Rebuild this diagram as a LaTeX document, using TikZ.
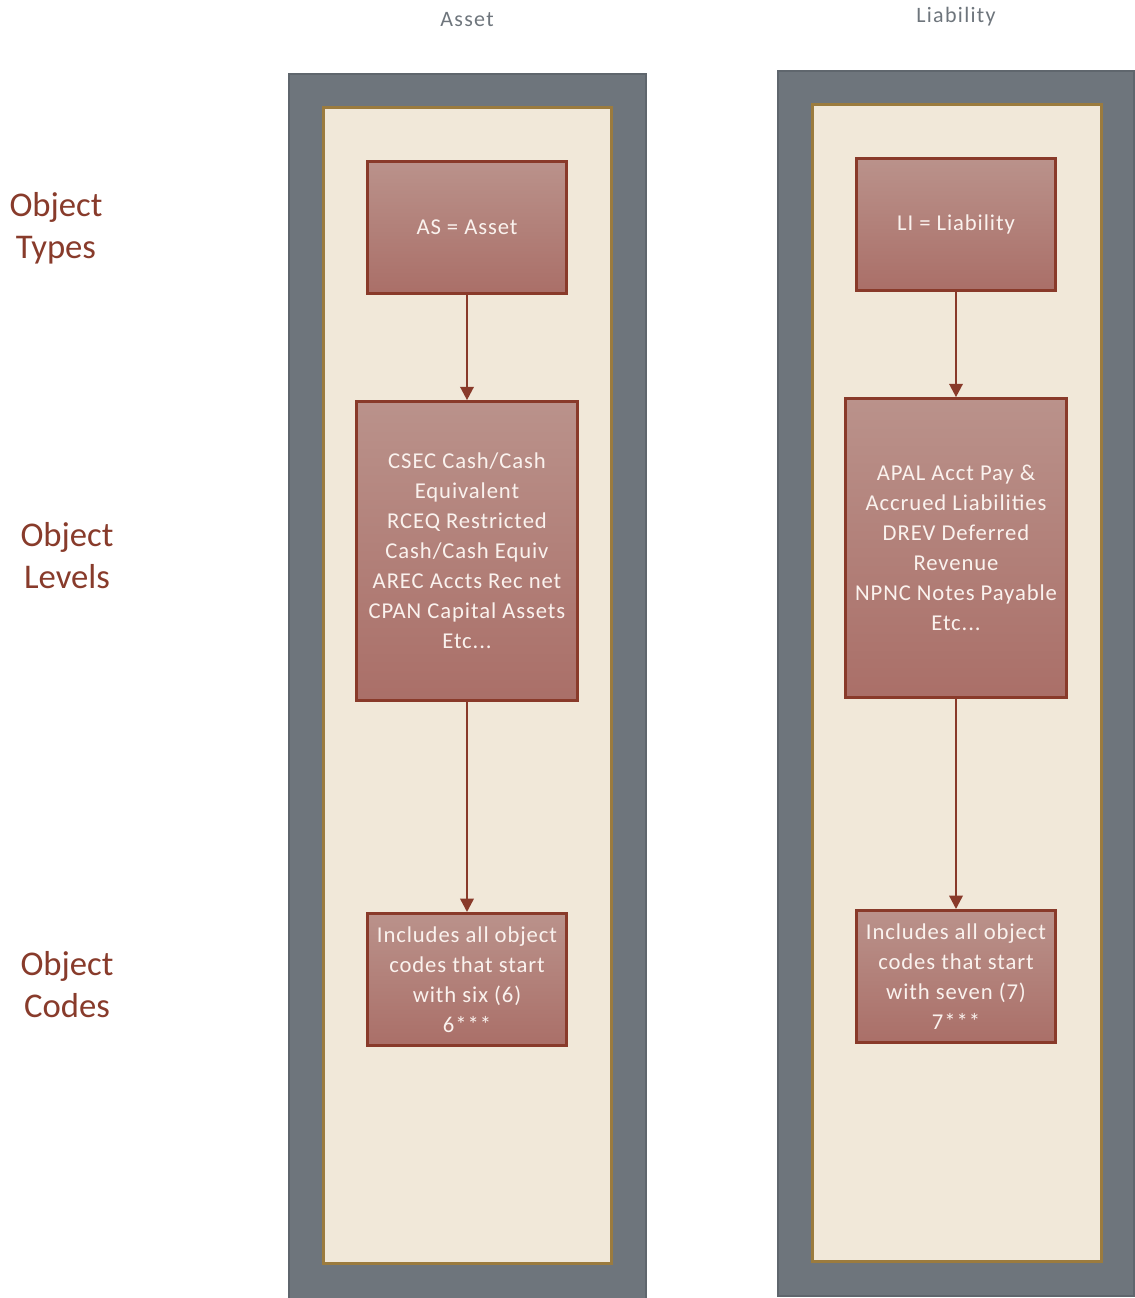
\documentclass[tikz,border=0pt]{standalone}
\usepackage{fontspec}
\setmainfont{Carlito}
\usetikzlibrary{arrows.meta}

\definecolor{framegray}{RGB}{110,117,124}
\definecolor{framedark}{RGB}{95,102,109}
\definecolor{panelbeige}{RGB}{241,232,217}
\definecolor{panelgold}{RGB}{155,123,62}
\definecolor{boxtop}{RGB}{186,146,139}
\definecolor{boxbottom}{RGB}{170,111,104}
\definecolor{boxline}{RGB}{137,58,42}
\definecolor{boxtext}{RGB}{250,242,238}
\definecolor{labelred}{RGB}{136,59,43}

\tikzset{
  frame/.style={fill=framegray, draw=framedark, line width=1.5pt},
  panel/.style={fill=panelbeige, draw=panelgold, line width=2.25pt},
  objbox/.style={draw=boxline, line width=2.25pt, top color=boxtop, bottom color=boxbottom,
    text=boxtext, align=center, font=\addfontfeatures{LetterSpace=4}\fontsize{17}{22.5}\selectfont,
    minimum width=149pt, minimum height=99pt, inner sep=0pt},
  widebox/.style={objbox, minimum width=166pt, minimum height=224pt},
  rowlabel/.style={text=labelred, align=center, font=\fontsize{26}{31.5}\selectfont},
  collabel/.style={text=framegray, font=\addfontfeatures{LetterSpace=6}\fontsize{16.5}{18}\selectfont},
  flow/.style={draw=boxline, line width=1.8pt, -{Triangle[length=10pt,width=10pt]}}
}

\begin{document}
\begin{tikzpicture}[x=0.75pt,y=0.75pt,yscale=-1,xscale=1]
\useasboundingbox (0,0) rectangle (1134,1298);

%Shape: Rectangle [frames]
\draw [frame] (289,74) rectangle (646,1300);
\draw [frame] (778,71) rectangle (1134,1296);
%Shape: Rectangle [panels]
\draw [panel] (323,108) rectangle (611,1263);
\draw [panel] (812,105) rectangle (1101,1261);

% Text Node
\node [collabel] (assethead) at (467,20) {Asset};
% Text Node
\node [collabel] (liabhead) at (956,17) {Liability};

% Text Node
\node [rowlabel] (typeslbl) at (56,228) {Object\\Types};
% Text Node
\node [rowlabel] (levelslbl) at (67,556) {Object\\Levels};
% Text Node
\node [rowlabel] (codeslbl) at (67,985) {Object\\Codes};

% Asset column
\node [objbox] (astype) at (467,227.5) {AS = Asset};
\node [widebox] (aslevel) at (467,551) {CSEC Cash/Cash\\Equivalent\\RCEQ Restricted\\Cash/Cash Equiv\\AREC Accts Rec net\\CPAN Capital Assets\\Etc...};
\node [objbox] (ascode) at (467,979.5) {Includes all object\\codes that start\\with six (6)\\6***};

% Liability column
\node [objbox] (litype) at (956,224.5) {LI = Liability};
\node [widebox] (lilevel) at (956,548) {APAL Acct Pay \&\\Accrued Liabilities\\DREV Deferred\\Revenue\\NPNC Notes Payable\\Etc...};
\node [objbox] (licode) at (956,976.5) {Includes all object\\codes that start\\with seven (7)\\7***};

%Straight Lines [arrows]
\draw [flow] (astype) -- (aslevel);
\draw [flow] (aslevel) -- (ascode);
\draw [flow] (litype) -- (lilevel);
\draw [flow] (lilevel) -- (licode);

\end{tikzpicture}
\end{document}
